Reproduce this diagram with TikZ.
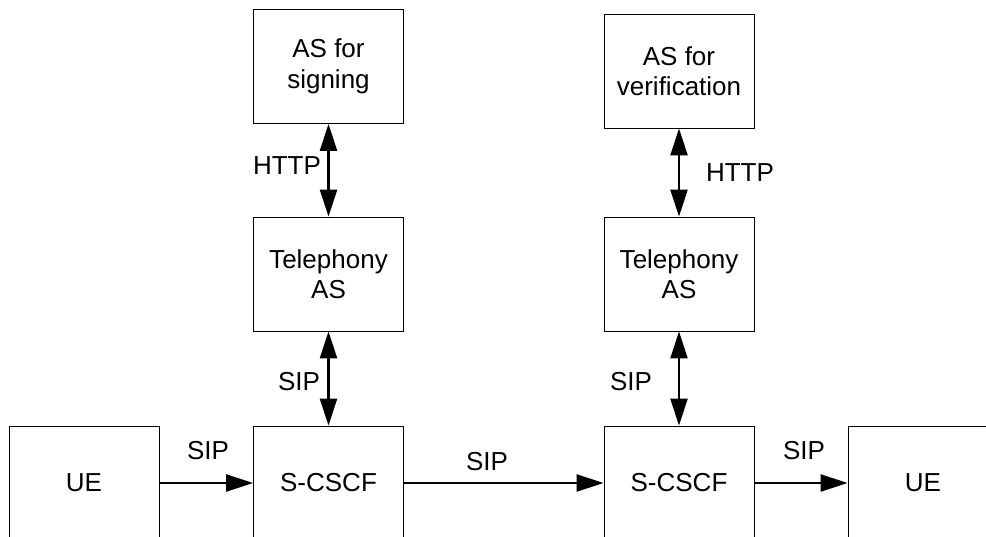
\documentclass[tikz,border=0pt]{standalone}
\usepackage{fontspec}
\setmainfont{Liberation Sans}
\usetikzlibrary{arrows.meta}
\begin{document}
\begin{tikzpicture}[x=1pt,y=-1pt,
  box/.style={draw, line width=0.9pt, minimum width=150pt, minimum height=114pt,
    inner sep=0pt, align=center, font=\fontsize{26}{30.5}\selectfont},
  lbl/.style={inner sep=0pt, font=\fontsize{26}{30.5}\selectfont},
  arr/.style={line width=2.6pt, -{Triangle[length=27pt,width=17pt]}},
  biarr/.style={line width=2.6pt, {Triangle[length=27pt,width=17pt]}-{Triangle[length=27pt,width=17pt]}}]
\clip (0,0) rectangle (986,537);
\fill[white] (0,0) rectangle (986,537);
\node[box] (sig) at (328.5,66.5) {AS for\\signing};
\node[box] (ver) at (679,71) {AS for\\verification};
\node[box] (tel1) at (328.5,274) {Telephony\\AS};
\node[box] (tel2) at (679,274) {Telephony\\AS};
\node[box] (ue1) at (84,483) {UE};
\node[box] (cs1) at (328.5,483) {S-CSCF};
\node[box] (cs2) at (679,483) {S-CSCF};
\node[box] (ue2) at (923,483) {UE};
\draw[biarr] (sig) -- (tel1);
\draw[biarr] (ver) -- (tel2);
\draw[biarr] (tel1) -- (cs1);
\draw[biarr] (tel2) -- (cs2);
\draw[arr] (ue1) -- (cs1);
\draw[arr] (cs1) -- (cs2);
\draw[arr] (cs2) -- (ue2);
\node[lbl] (l1) at (287,165.5) {HTTP};
\node[lbl] (l2) at (740,173) {HTTP};
\node[lbl] (l3) at (299,382) {SIP};
\node[lbl] (l4) at (631,382) {SIP};
\node[lbl] (l5) at (208,451) {SIP};
\node[lbl] (l6) at (487,461.5) {SIP};
\node[lbl] (l7) at (804,451) {SIP};
\end{tikzpicture}
\end{document}
